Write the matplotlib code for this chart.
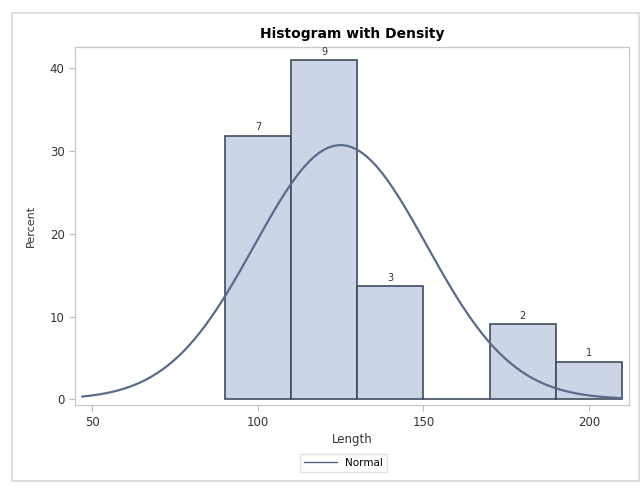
import numpy as np
import matplotlib.pyplot as plt
from matplotlib.patches import Rectangle

# histogram bins (Length) and counts
bin_left = [90, 110, 130, 150, 170, 190]
bin_width = 20
counts = [7, 9, 3, 0, 2, 1]

# fitted normal parameters
mu = 125.0
sigma = 26.0
curve_start, curve_end = 47, 210

total = sum(counts)
percent = [100.0 * c / total for c in counts]

fig = plt.figure(figsize=(6.42, 4.87), dpi=100)
fig.patches.append(Rectangle((0.018, 0.012), 0.978, 0.962, transform=fig.transFigure,
                             fill=False, edgecolor='#d8d8d8', linewidth=1.2))
ax = fig.add_axes([0.117, 0.168, 0.862, 0.735])

bar_fill = '#cbd5e6'
bar_edge = '#3f4b5e'
ax.bar(bin_left, percent, width=bin_width, align='edge', color=bar_fill,
       edgecolor=bar_edge, linewidth=1.2)
for x, p, c in zip(bin_left, percent, counts):
    if c > 0:
        ax.text(x + bin_width / 2, p + 0.4, str(c), ha='center', va='bottom',
                fontsize=7, color='#333333')

xs = np.linspace(curve_start, curve_end, 300)
ys = 100.0 * bin_width * np.exp(-0.5 * ((xs - mu) / sigma) ** 2) / (sigma * np.sqrt(2 * np.pi))
ax.plot(xs, ys, color='#5a6a8a', linewidth=1.6, label='Normal')

ax.set_xlim(44.8, 212)
ax.set_ylim(-0.7, 42.5)
ax.set_xticks([50, 100, 150, 200])
ax.set_yticks([0, 10, 20, 30, 40])
ax.tick_params(labelsize=8.5, colors='#333333', length=4, width=0.8)
ax.tick_params(axis='both', color='#bbbbbb')
for s in ax.spines.values():
    s.set_color('#c8c8c8')
    s.set_linewidth(0.9)
ax.set_xlabel('Length', fontsize=8.5, color='#333333', labelpad=3)
ax.set_ylabel('Percent', fontsize=8, color='#333333', labelpad=10)
ax.set_title('Histogram with Density', fontsize=10, fontweight='bold', pad=7)

leg = fig.legend(loc='center', bbox_to_anchor=(0.535, 0.049), fontsize=7.5,
                 frameon=True, fancybox=False, handlelength=3.2)
leg.get_frame().set_edgecolor('#dddddd')
leg.get_lines()[0].set_linewidth(1.0)

fig.savefig('out.png', dpi=100)
